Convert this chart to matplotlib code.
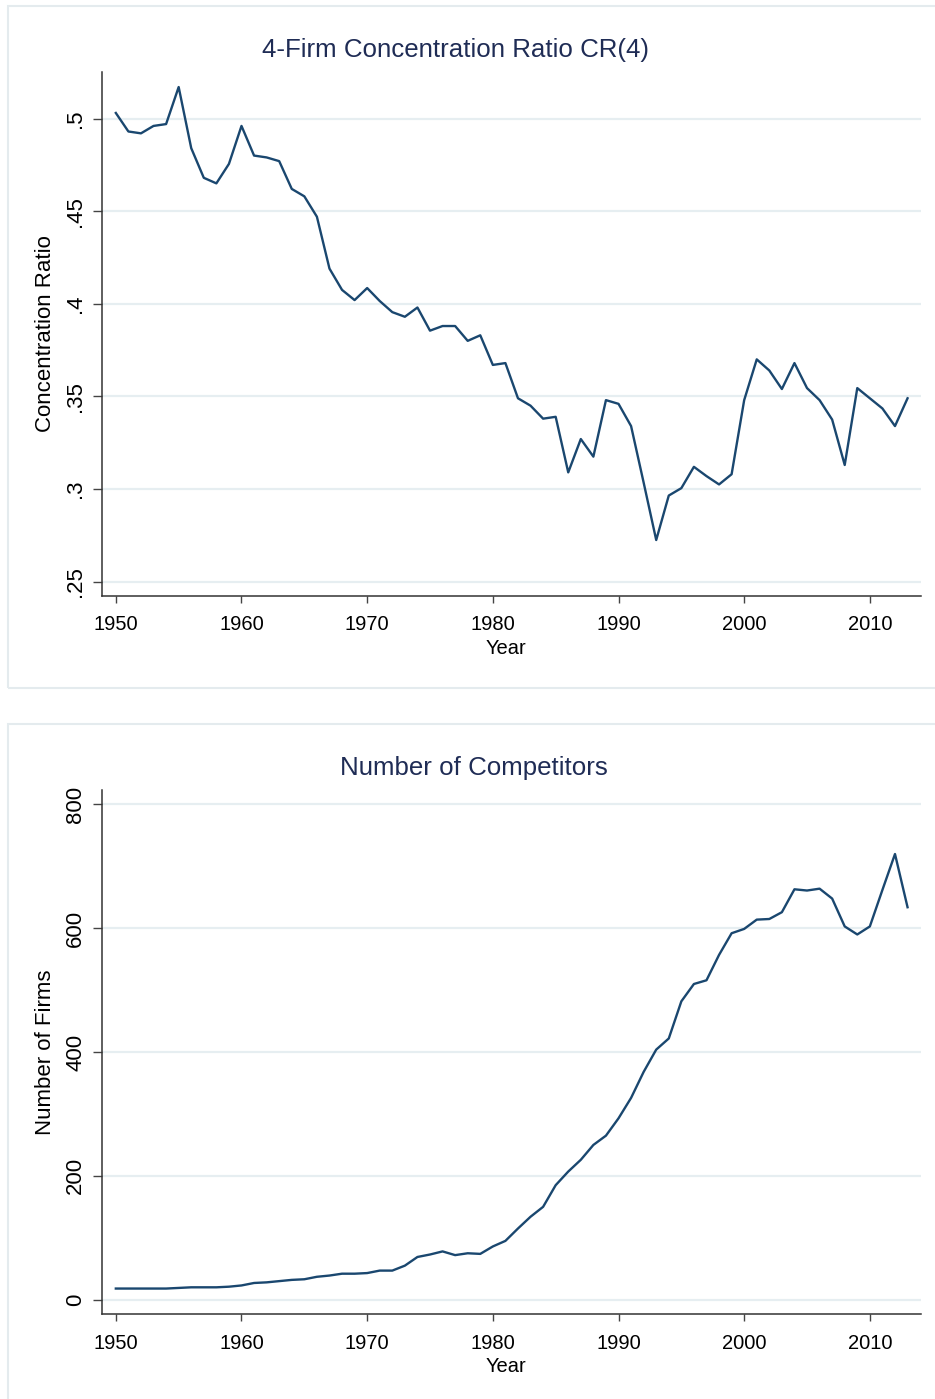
import matplotlib
matplotlib.use("Agg")
import matplotlib.pyplot as plt
from matplotlib import font_manager as fm
from matplotlib.patches import Rectangle

# ---------------- data ----------------
years = list(range(1950, 2014))

cr4 = [0.503, 0.493, 0.492, 0.496, 0.497, 0.517, 0.484, 0.468, 0.465, 0.4755,
       0.496, 0.480, 0.479, 0.477, 0.462, 0.458, 0.447, 0.419, 0.4075, 0.402,
       0.4085, 0.4015, 0.3955, 0.393, 0.398, 0.3855, 0.388, 0.388, 0.380, 0.383,
       0.367, 0.368, 0.349, 0.345, 0.338, 0.339, 0.309, 0.327, 0.3175, 0.348,
       0.346, 0.334, 0.3035, 0.2725, 0.2965, 0.3005, 0.312, 0.307, 0.3025, 0.308,
       0.348, 0.370, 0.364, 0.354, 0.368, 0.3545, 0.348, 0.3375, 0.313, 0.3545,
       0.349, 0.3435, 0.334, 0.349]

firms = [18, 18, 18, 18, 18, 19, 20, 20, 20, 21,
         23, 27, 28, 30, 32, 33, 37, 39, 42, 42,
         43, 47, 47, 55, 69, 73, 78, 72, 75, 74,
         86, 95, 115, 134, 150, 185, 207, 226, 250, 265,
         293, 326, 368, 404, 422, 482, 510, 516, 557, 592,
         599, 614, 615, 626, 663, 661, 664, 648, 603, 590,
         603, 662, 720, 634]

x_ticks = [1950, 1960, 1970, 1980, 1990, 2000, 2010]
x_ticklabels = [str(v) for v in x_ticks]
cr_ticks = [0.25, 0.30, 0.35, 0.40, 0.45, 0.50]
cr_ticklabels = [".25", ".3", ".35", ".4", ".45", ".5"]
firm_ticks = [0, 200, 400, 600, 800]
firm_ticklabels = ["0", "200", "400", "600", "800"]

title_top = "4-Firm Concentration Ratio CR(4)"
title_bot = "Number of Competitors"
ylabel_top = "Concentration Ratio"
ylabel_bot = "Number of Firms"
xlabel = "Year"

# ---------------- style ----------------
names = {f.name for f in fm.fontManager.ttflist}
FONT = "Liberation Sans" if "Liberation Sans" in names else "DejaVu Sans"

LINE = "#1a476f"
TITLE = "#1f2c55"
GRID = "#e6eef1"
BORDER = "#e4ebee"
W, H = 935, 1399

fig = plt.figure(figsize=(W / 100, H / 100), dpi=100)
fig.patch.set_facecolor("white")

def px_rect(x0, y0, x1, y1):
    return [x0 / W, 1 - y1 / H, (x1 - x0) / W, (y1 - y0) / H]

# panel borders (behind the axes)
for (x0, y0, x1, y1) in [(8, 6, 940, 688), (8, 724, 940, 1405)]:
    fig.patches.append(Rectangle((x0 / W, 1 - y1 / H), (x1 - x0) / W, (y1 - y0) / H,
                                 transform=fig.transFigure, facecolor="none",
                                 edgecolor=BORDER, lw=1.5, zorder=-5))

def style_axes(ax, yticks, yticklabels):
    for s in ["top", "right"]:
        ax.spines[s].set_visible(False)
    for s in ["left", "bottom"]:
        ax.spines[s].set_color("#333333")
        ax.spines[s].set_linewidth(1.1)
    ax.set_xticks(x_ticks)
    ax.set_xticklabels(x_ticklabels, fontfamily=FONT, fontsize=14.5)
    ax.set_yticks(yticks)
    ax.set_yticklabels(yticklabels, fontfamily=FONT, fontsize=16,
                       rotation=90, va="center")
    ax.tick_params(axis="x", length=5, width=1, color="#444444", pad=9)
    ax.tick_params(axis="y", length=6.5, width=1, color="#444444", pad=4.5)
    ax.grid(axis="y", color=GRID, lw=1.6)
    ax.set_axisbelow(True)
    ax.patch.set_alpha(0)

# top axes
ax1 = fig.add_axes(px_rect(101.5, 72, 921, 596))
ax1.plot(years, cr4, color=LINE, lw=1.7, zorder=3)
ax1.set_xlim(1948.86, 2014.07)
ax1.set_ylim(0.24228, 0.52511)
style_axes(ax1, cr_ticks, cr_ticklabels)

# bottom axes
ax2 = fig.add_axes(px_rect(101.5, 790, 921, 1314.3))
ax2.plot(years, firms, color=LINE, lw=1.7, zorder=3)
ax2.set_xlim(1948.86, 2014.07)
ax2.set_ylim(-23.6, 823.4)
style_axes(ax2, firm_ticks, firm_ticklabels)

def ftext(x, y, s, **kw):
    fig.text(x / W, 1 - y / H, s, **kw)

ftext(456, 50, title_top, fontfamily=FONT, fontsize=18.6, color=TITLE,
      ha="center", va="center")
ftext(474, 768, title_bot, fontfamily=FONT, fontsize=18.6, color=TITLE,
      ha="center", va="center")
ftext(506, 649, xlabel, fontfamily=FONT, fontsize=14.5, ha="center", va="center")
ftext(506, 1367, xlabel, fontfamily=FONT, fontsize=14.5, ha="center", va="center")
ftext(46, 334, ylabel_top, fontfamily=FONT, fontsize=16, rotation=90, ha="center", va="center")
ftext(46, 1052, ylabel_bot, fontfamily=FONT, fontsize=16, rotation=90, ha="center", va="center")

fig.savefig("out.png", dpi=100, facecolor="white")
